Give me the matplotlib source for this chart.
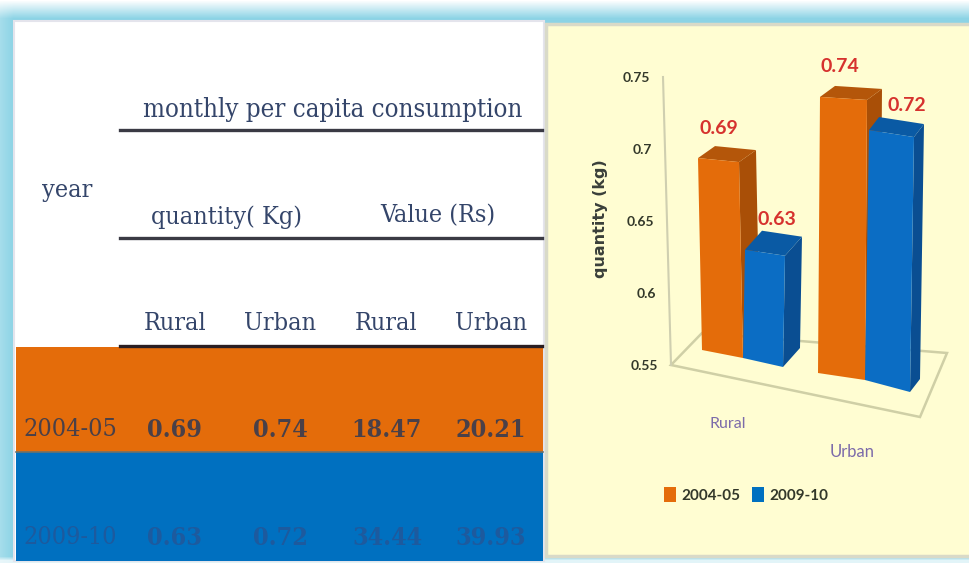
import numpy as np
import matplotlib
matplotlib.use('Agg')
import matplotlib.pyplot as plt
from matplotlib.patches import Polygon, Rectangle

W, H = 969, 563

# table contents
years = ['2004-05', '2009-10']
rural_qty = ['0.69', '0.63']
urban_qty = ['0.74', '0.72']
rural_val = ['18.47', '34.44']
urban_val = ['20.21', '39.93']
sub_heads = ['Rural', 'Urban', 'Rural', 'Urban']

# bar chart values
categories = ['Rural', 'Urban']
series_names = ['2004-05', '2009-10']
qty_0405 = [0.69, 0.74]
qty_0910 = [0.63, 0.72]
y_ticks = [0.55, 0.6, 0.65, 0.7, 0.75]
y_tick_labels = ['0.55', '0.6', '0.65', '0.7', '0.75']

ORANGE = '#E46C0A'
BLUE = '#0070C0'
PANEL = '#FFFDD2'
INK = '#34456A'
SERIF = 'DejaVu Serif'
SANS = 'Lato'

fig = plt.figure(figsize=(W / 100, H / 100), dpi=100)

# page axes, in pixels
ax = fig.add_axes([0, 0, 1, 1])
ax.set_xlim(0, W)
ax.set_ylim(H, 0)
ax.axis('off')

# cyan glow round the picture
yy, xx = np.mgrid[0:H, 0:W]
t = np.clip(yy / 18, 0, 1) * (0.78 + 0.22 * np.clip(xx / 13, 0, 1))
t = t * (1 - 0.75 * np.clip((yy - 556) / 4, 0, 1))
cyan = np.array([0.55, 0.83, 0.90])
glow = np.dstack([1 - (1 - c) * t for c in cyan])
ax.imshow(glow, extent=(0, W, H, 0), aspect='auto', zorder=0)

ax.add_patch(Rectangle((14, 21), 530, 540, fc='white', ec='#E4E4EC', lw=1.5, zorder=1))
ax.add_patch(Rectangle((16, 347), 527, 105, fc=ORANGE, ec='none', zorder=2))
ax.add_patch(Rectangle((16, 452), 527, 109, fc=BLUE, ec='none', zorder=2))
ax.plot([16, 543], [452, 452], color='#6F7268', lw=1.2, zorder=3)

for y, col in [(130, '#3A3A44'), (238, '#3A3A44'), (346, '#2A1E22')]:
    ax.plot([120, 542], [y, y], color=col, lw=2.4, zorder=3)

# table text
def cell(x, y, s, color=INK, size=18, weight='normal'):
    ax.text(x, y, s, color=color, fontsize=size, family=SERIF, stretch='condensed',
            weight=weight, ha='center', va='center', zorder=4)

cell(333, 109, 'monthly per capita consumption', size=18.5)
cell(67, 190, 'year')
cell(227, 217, 'quantity( Kg)')
cell(438, 216, 'Value (Rs)')
for x, s in zip([175, 280, 386, 491], sub_heads):
    cell(x, 324, s)

columns = [years, rural_qty, urban_qty, rural_val, urban_val]
for x, col, w in zip([70, 174, 280, 387, 491], columns, ['normal', 'bold', 'bold', 'bold', 'bold']):
    cell(x, 430, col[0], color='#4A4048', weight=w)
    cell(x, 538, col[1], color='#1D5A9E', weight=w)

# chart panel, runs off the right edge
ax.add_patch(Rectangle((546, 24), W - 546 + 10, 532, fc=PANEL, ec='#D9DAC8', lw=2.5, zorder=1))

# floor and axis line of the fake 3d chart
ax.add_patch(Polygon([(671, 365), (920, 417), (947, 353), (702, 333)], closed=True,
                     fc='none', ec='#CFCFA6', lw=1.8, zorder=2))
ax.plot([663, 671], [77, 365], color='#CFCFB0', lw=1.5, zorder=2)

# value axes: y is the quantity, x stays in pixels
TOP_PX, BOT_PX = 78, 366
ax_c = fig.add_axes([0, 1 - BOT_PX / H, 1, (BOT_PX - TOP_PX) / H])
ax_c.set_xlim(0, W)
ax_c.set_ylim(y_ticks[0], y_ticks[-1])
ax_c.axis('off')
PX_PER_UNIT = (BOT_PX - TOP_PX) / (y_ticks[-1] - y_ticks[0])

def px_to_val(p):
    return y_ticks[0] + (BOT_PX - p) / PX_PER_UNIT

# (left, right, base, bottom slant, top slant, lean, depth x, depth y, height scale)
bar_shapes = [
    (702, 743, 350, 8, 4, -4, 17, -12, 0.952),
    (743, 783, 358, 9, 6, 2, 17, -19, 0.94),
    (818, 865, 373, 7, 3, 2, 15, -11, 1.009),
    (865, 910, 380, 12, 7, 4, 10, -13, 1.021),
]
bar_values = [qty_0405[0], qty_0910[0], qty_0405[1], qty_0910[1]]
bar_faces = [(ORANGE, '#A94F07', '#B4560A'), ('#0B6DC4', '#0A4E92', '#0A5AA4'),
             (ORANGE, '#A94F07', '#B4560A'), ('#0B6DC4', '#0A4E92', '#0A5AA4')]
label_pos = [(719, 129), (777, 219), (840, 67), (907, 105)]

for v, shape, faces, lp in zip(bar_values, bar_shapes, bar_faces, label_pos):
    xl, xr, base, sb, st, lean, dx, dy, k = shape
    y_bl = px_to_val(base)
    y_br = px_to_val(base + sb)
    y_tl = y_bl + (v - y_ticks[0]) * k
    y_tr = y_tl - st / PX_PER_UNIT
    d = -dy / PX_PER_UNIT
    front, side, top = faces
    ax_c.add_patch(Polygon([(xr, y_br), (xr + dx, y_br + d), (xr + lean + dx, y_tr + d), (xr + lean, y_tr)],
                           closed=True, fc=side, ec='none', clip_on=False))
    ax_c.add_patch(Polygon([(xl + lean, y_tl), (xr + lean, y_tr), (xr + lean + dx, y_tr + d), (xl + lean + dx, y_tl + d)],
                           closed=True, fc=top, ec='none', clip_on=False))
    ax_c.add_patch(Polygon([(xl, y_bl), (xr, y_br), (xr + lean, y_tr), (xl + lean, y_tl)],
                           closed=True, fc=front, ec='none', clip_on=False))
    ax_c.text(lp[0], px_to_val(lp[1]), f'{v:.2f}', color='#D6322E', fontsize=14, family=SANS,
              weight='bold', ha='center', va='center', clip_on=False)

# tick labels follow the slightly tilted axis
for v, s in zip(y_ticks, y_tick_labels):
    ax_c.text(650 + (0.75 - v) * 40, v, s, color='#33382A', fontsize=10, family=SANS, weight='bold',
              ha='right', va='center', clip_on=False)

ax.text(601, 219, 'quantity (kg)', color='#3A3F3A', fontsize=11.5, family='DejaVu Sans', weight='bold',
        rotation=90, ha='center', va='center', zorder=4)

for name, x, y, size in zip(categories, [728, 852], [424, 452], [11.5, 12]):
    ax.text(x, y, name, color='#7C6BAA', fontsize=size, family=SANS, ha='center', va='center', zorder=4)

# legend
handles = [Rectangle((0, 0), 1, 1, fc=ORANGE, ec='none'), Rectangle((0, 0), 1, 1, fc=BLUE, ec='none')]
ax.legend(handles, series_names, ncols=2, frameon=False, loc='center',
          bbox_to_anchor=(746, 495), bbox_transform=ax.transData,
          prop={'family': SANS, 'weight': 'bold', 'size': 11},
          handlelength=0.8, handleheight=1.1, handletextpad=0.3, columnspacing=0.8, labelcolor='#33382A')

fig.savefig('out.png', dpi=100)
